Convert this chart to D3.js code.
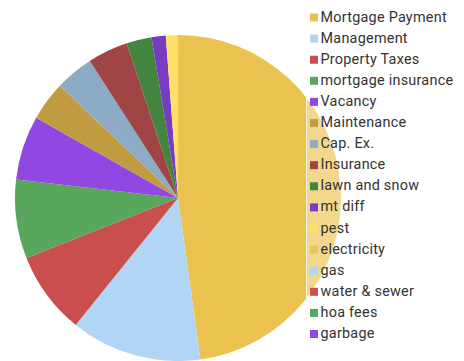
<!DOCTYPE html>
<html>
<head>
<meta charset="utf-8">
<script src="https://cdn.jsdelivr.net/npm/d3@7/dist/d3.min.js"></script>
<style>
  html, body { margin: 0; padding: 0; background: #fff; }
  svg { display: block; }
  text { font-family: Roboto, "Noto Sans", sans-serif; }
</style>
</head>
<body>
<svg id="chart" width="464" height="361"></svg>
<script>
// Monthly cost breakdown (share of total, %)
const categories = [
  "Mortgage Payment", "Management", "Property Taxes", "mortgage insurance",
  "Vacancy", "Maintenance", "Cap. Ex.", "Insurance", "lawn and snow",
  "mt diff", "pest", "electricity", "gas", "water & sewer", "hoa fees", "garbage"
];
const values = [47.8, 13.0, 8.2, 7.8, 6.4, 3.9, 3.8, 4.0, 2.5, 1.4, 1.2, 0, 0, 0, 0, 0];
const colors = [
  "#ebc250", "#b1d6f5", "#c94f4f", "#58a75c", "#9148e2",
  "#c09b40", "#8dabc4", "#a04545", "#43843f", "#773cc0",
  "#ffe066", "#e9c55a", "#b1d6f5", "#c94f4f", "#58a75c", "#9148e2"
];

const data = categories.map((c, i) => ({ name: c, value: values[i], color: colors[i] }));

const svg = d3.select("#chart");
const cx = 178, cy = 198, radius = 163;

const pie = d3.pie().sort(null).value(d => d.value);
const arc = d3.arc().innerRadius(0).outerRadius(radius);

svg.append("g")
  .attr("transform", `translate(${cx},${cy})`)
  .selectAll("path")
  .data(pie(data).filter(d => d.data.value > 0))
  .join("path")
  .attr("d", arc)
  .attr("fill", d => d.data.color);

// Legend panel sits over the right edge of the pie
const legend = svg.append("g");
legend.append("rect")
  .attr("x", 306).attr("y", 0)
  .attr("width", 158).attr("height", 361)
  .attr("fill", "#fff").attr("fill-opacity", 0.35);
legend.append("line")
  .attr("x1", 306.5).attr("x2", 306.5)
  .attr("y1", 0).attr("y2", 361)
  .attr("stroke", "#fff").attr("stroke-width", 1)
  .attr("stroke-opacity", 0.8);

const y = d3.scalePoint().domain(categories).range([16.5, 333]);

const items = legend.selectAll("g.item")
  .data(data)
  .join("g")
  .attr("class", "item")
  .attr("transform", d => `translate(0,${y(d.name)})`);

items.append("rect")
  .attr("x", 310).attr("y", -3)
  .attr("width", 8).attr("height", 8)
  .attr("fill", d => d.color);

items.append("text")
  .attr("x", 320.5).attr("y", 0)
  .attr("dy", "0.35em")
  .attr("font-size", 14.4)
  .attr("letter-spacing", 0.25)
  .attr("fill", "#333")
  .text(d => d.name);
</script>
</body>
</html>
